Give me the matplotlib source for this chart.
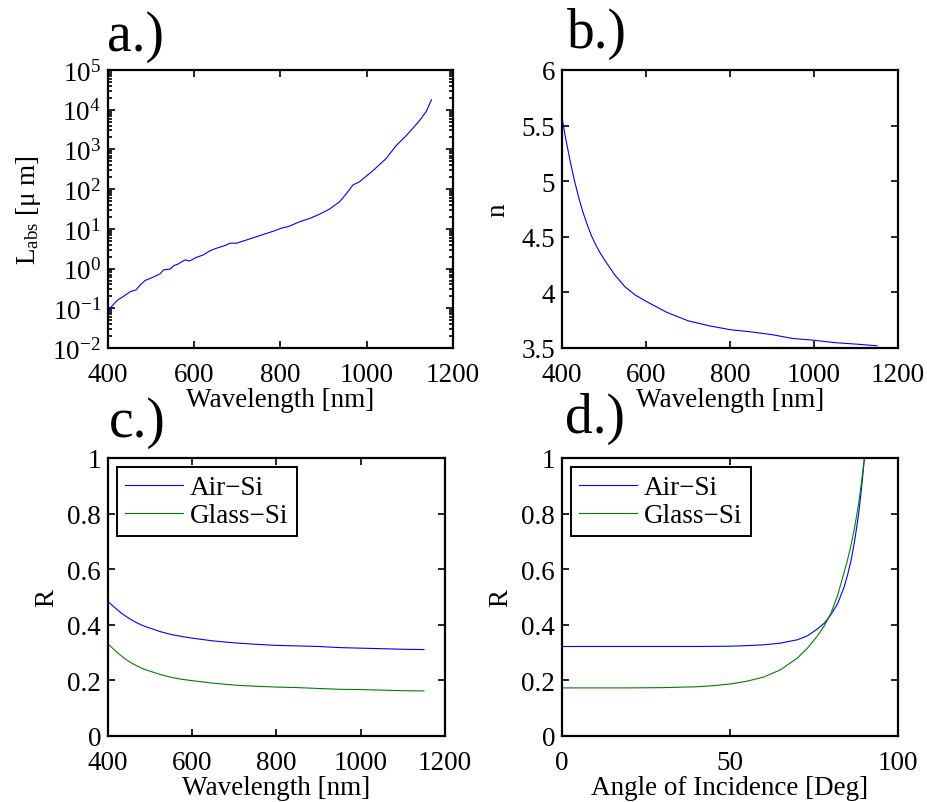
import matplotlib
matplotlib.use('Agg')
import matplotlib.pyplot as plt
from matplotlib.ticker import FormatStrFormatter, LogLocator, NullFormatter

plt.rcParams['font.family'] = ['Liberation Serif', 'DejaVu Serif']
plt.rcParams['mathtext.fontset'] = 'custom'
plt.rcParams['mathtext.rm'] = 'Liberation Serif'
plt.rcParams['mathtext.it'] = 'Liberation Serif:italic'
plt.rcParams['font.size'] = 19.5

# a.) absorption length of Si
wl_abs = [400, 421, 436, 452, 465, 475, 486, 505, 521, 529, 544, 553, 563, 579, 589, 606,
          621, 637, 652, 671, 683, 698, 721, 752, 783, 802, 818, 845, 868, 891, 914, 937,
          952, 968, 983, 1014, 1045, 1068, 1091, 1122, 1138, 1150]
L_abs = [0.088, 0.157, 0.20, 0.264, 0.29, 0.39, 0.50, 0.61, 0.74, 0.93, 0.97, 1.19, 1.31,
         1.66, 1.55, 1.93, 2.21, 2.83, 3.26, 3.79, 4.35, 4.35, 5.25, 6.76, 8.7, 10.4, 11.4,
         15.2, 18.3, 23.5, 31.6, 48, 75, 127, 153, 290, 590, 1240, 2190, 5250, 9060, 17800]

# b.) refractive index, c.) normal incidence reflectance
wl = [400, 410, 420, 430, 440, 450, 460, 470, 480, 490, 500, 525, 550, 575, 600, 650,
      700, 750, 800, 850, 900, 950, 1000, 1050, 1100, 1150]
n_si = [5.57, 5.36, 5.17, 5.00, 4.85, 4.72, 4.61, 4.51, 4.43, 4.36, 4.30, 4.16, 4.05,
        3.975, 3.92, 3.82, 3.745, 3.70, 3.665, 3.645, 3.62, 3.585, 3.57, 3.548, 3.535, 3.52]
R_air_wl = [0.484, 0.470, 0.457, 0.444, 0.433, 0.423, 0.414, 0.406, 0.399, 0.393, 0.388,
            0.375, 0.365, 0.358, 0.352, 0.342, 0.335, 0.330, 0.326, 0.324, 0.322, 0.318,
            0.316, 0.314, 0.312, 0.311]
R_glass_wl = [0.331, 0.317, 0.303, 0.290, 0.278, 0.268, 0.259, 0.251, 0.244, 0.238, 0.233,
              0.221, 0.211, 0.204, 0.199, 0.190, 0.183, 0.179, 0.176, 0.174, 0.171, 0.168,
              0.167, 0.165, 0.163, 0.162]

# d.) reflectance vs angle of incidence
ang_air = [0, 10, 20, 30, 40, 50, 55, 60, 65, 70, 73, 76, 78, 80, 82, 84, 85, 86, 87, 88,
           88.5, 89, 89.5, 90]
R_air_ang = [0.322, 0.322, 0.322, 0.322, 0.322, 0.323, 0.325, 0.328, 0.334, 0.346, 0.360,
             0.385, 0.405, 0.436, 0.475, 0.537, 0.58, 0.630, 0.695, 0.775, 0.82, 0.875,
             0.935, 1.0]
ang_glass = [0, 10, 20, 30, 40, 45, 50, 55, 60, 65, 70, 73, 76, 78, 80, 82, 84, 85, 86, 87,
             88, 88.5, 89, 89.5, 90]
R_glass_ang = [0.173, 0.173, 0.173, 0.174, 0.177, 0.181, 0.187, 0.197, 0.212, 0.238, 0.28,
               0.315, 0.36, 0.395, 0.44, 0.505, 0.59, 0.635, 0.685, 0.745, 0.815, 0.855,
               0.90, 0.95, 1.0]

W, H = 928, 803
fig = plt.figure(figsize=(W / 100, H / 100), dpi=100)


def box(l, t, r, b):
    return [l / W, 1 - b / H, (r - l) / W, (b - t) / H]


def style(ax):
    for s in ax.spines.values():
        s.set_linewidth(1.6)
    ax.tick_params(which='both', direction='in', top=True, right=True, width=1.2,
                   labelsize=19.5)
    ax.tick_params(axis='x', pad=10)
    ax.tick_params(axis='y', pad=5)
    ax.tick_params(which='major', length=5)
    ax.tick_params(which='minor', length=3)


ax_a = fig.add_axes(box(108, 71, 453, 349))
ax_b = fig.add_axes(box(562, 71, 898, 349))
ax_c = fig.add_axes(box(108, 459, 445, 737))
ax_d = fig.add_axes(box(562, 459, 898, 737))

ax_a.semilogy(wl_abs, L_abs, color='b', lw=0.8)
ax_a.set_xlim(400, 1200)
ax_a.set_ylim(1e-2, 1e5)
ax_a.yaxis.set_major_locator(LogLocator(base=10, numticks=10))
ax_a.yaxis.set_minor_locator(LogLocator(base=10, subs=range(2, 10), numticks=10))
ax_a.yaxis.set_minor_formatter(NullFormatter())
ax_a.set_xticks([400, 600, 800, 1000, 1200])
ax_a.set_xlabel('Wavelength [nm]', labelpad=0)
ax_a.set_ylabel('L$_{\\mathrm{abs}}$ [μ m]', labelpad=7)

ax_b.plot(wl, n_si, color='b', lw=0.8)
ax_b.set_xlim(400, 1200)
ax_b.set_ylim(3.5, 6)
ax_b.set_xticks([400, 600, 800, 1000, 1200])
ax_b.set_yticks([3.5, 4, 4.5, 5, 5.5, 6])
ax_b.yaxis.set_major_formatter(FormatStrFormatter('%g'))
ax_b.set_xlabel('Wavelength [nm]', labelpad=0)
ax_b.set_ylabel('n', labelpad=8)

ax_c.plot(wl, R_air_wl, color='b', lw=0.8, label='Air\u2212Si')
ax_c.plot(wl, R_glass_wl, color=(0, 0.5, 0), lw=0.8, label='Glass\u2212Si')
ax_c.set_xlim(400, 1200)
ax_c.set_xticks([400, 600, 800, 1000, 1200])
ax_c.set_xlabel('Wavelength [nm]', labelpad=0)

ax_d.plot(ang_air, R_air_ang, color='b', lw=0.8, label='Air\u2212Si')
ax_d.plot(ang_glass, R_glass_ang, color=(0, 0.5, 0), lw=0.8, label='Glass\u2212Si')
ax_d.set_xlim(0, 100)
ax_d.set_xticks([0, 50, 100])
ax_d.set_xlabel('Angle of Incidence [Deg]', labelpad=0)

for ax in (ax_c, ax_d):
    ax.set_ylim(0, 1)
    ax.set_yticks([0, 0.2, 0.4, 0.6, 0.8, 1])
    ax.yaxis.set_major_formatter(FormatStrFormatter('%g'))
    ax.set_ylabel('R', labelpad=6)
    leg = ax.legend(loc='upper left', fontsize=19.5, fancybox=False, framealpha=1,
                    edgecolor='k', borderaxespad=0.33, handlelength=2.15,
                    borderpad=0.3, labelspacing=0.12, handletextpad=0.25)
    leg.get_frame().set_linewidth(1.4)

for ax in (ax_a, ax_b, ax_c, ax_d):
    style(ax)

for lab, x, y in [('a.)', 107, 51), ('b.)', 567, 48), ('c.)', 109, 437), ('d.)', 565, 433)]:
    fig.text(x / W, 1 - y / H, lab, fontsize=40, ha='left', va='baseline')

fig.savefig('out.png', dpi=100)
